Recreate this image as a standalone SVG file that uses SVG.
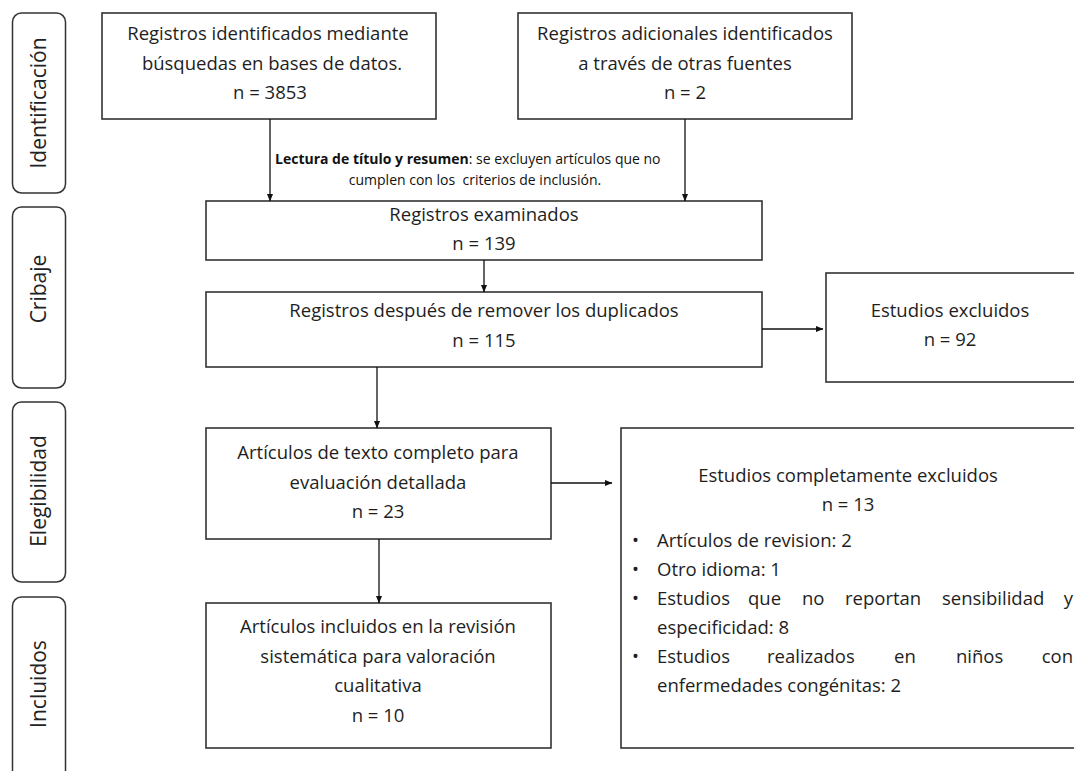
<svg xmlns="http://www.w3.org/2000/svg" width="1074" height="771" viewBox="0 0 1074 771">
<defs>
<marker id="ah" markerWidth="8" markerHeight="8" refX="7" refY="4" orient="auto" markerUnits="userSpaceOnUse">
<path d="M0,1 L7.5,4 L0,7 Z" fill="#111"/>
</marker>
<style>
.box{fill:#fff;stroke:#333;stroke-width:1.6}
.side{fill:#fff;stroke:#333;stroke-width:1.5}
.t{font-family:"Open Sans","DejaVu Sans",sans-serif;font-size:18.5px;fill:#1e1e1e;text-anchor:middle}
.tl{font-family:"Open Sans","DejaVu Sans",sans-serif;font-size:18.5px;fill:#1e1e1e}
.te{font-family:"Open Sans","DejaVu Sans",sans-serif;font-size:18.5px;fill:#1e1e1e;text-anchor:end}
.s{font-family:"Open Sans","DejaVu Sans",sans-serif;font-size:21px;fill:#222;text-anchor:middle}
.n{font-family:"Open Sans","DejaVu Sans",sans-serif;font-size:14px;fill:#111}
.c{stroke:#111;stroke-width:1.3;fill:none}
</style>
</defs>
<rect width="1074" height="771" fill="#fff"/>

<g id="side-identificacion">
<rect class="side" x="12.5" y="13" width="53" height="180" rx="9"/>
<text class="s" transform="translate(46,103) rotate(-90)">Identificación</text>
</g>
<g id="side-cribaje">
<rect class="side" x="12.5" y="207" width="53" height="181" rx="9"/>
<text class="s" transform="translate(46,289) rotate(-90)">Cribaje</text>
</g>
<g id="side-elegibilidad">
<rect class="side" x="12.5" y="402" width="53" height="180" rx="9"/>
<text class="s" transform="translate(46,491) rotate(-90)">Elegibilidad</text>
</g>
<g id="side-incluidos">
<rect class="side" x="12.5" y="597" width="53" height="185" rx="9"/>
<text class="s" transform="translate(46,684) rotate(-90)">Incluidos</text>
</g>

<g id="n-db">
<rect class="box" x="102" y="13" width="334" height="106"/>
<text class="t" x="268" y="40">Registros identificados mediante</text>
<text class="t" x="272" y="69.5">búsquedas en bases de datos.</text>
<text class="t" x="270" y="99">n = 3853</text>
</g>
<g id="n-other">
<rect class="box" x="518" y="13" width="334" height="106"/>
<text class="t" x="685" y="40">Registros adicionales identificados</text>
<text class="t" x="685" y="69.5">a través de otras fuentes</text>
<text class="t" x="685" y="99">n = 2</text>
</g>
<g id="n-examined">
<rect class="box" x="206" y="201" width="556" height="59"/>
<text class="t" x="484" y="221">Registros examinados</text>
<text class="t" x="484" y="250">n = 139</text>
</g>
<g id="n-dedup">
<rect class="box" x="206" y="292" width="556" height="75"/>
<text class="t" x="484" y="317">Registros después de remover los duplicados</text>
<text class="t" x="484" y="347">n = 115</text>
</g>
<g id="n-excluded">
<rect class="box" x="826" y="273" width="260" height="109"/>
<text class="t" x="950" y="317">Estudios excluidos</text>
<text class="t" x="950" y="346">n = 92</text>
</g>
<g id="n-fulltext">
<rect class="box" x="206" y="428" width="345" height="111"/>
<text class="t" x="378" y="459">Artículos de texto completo para</text>
<text class="t" x="378" y="489">evaluación detallada</text>
<text class="t" x="378" y="518">n = 23</text>
</g>
<g id="n-included">
<rect class="box" x="206" y="603" width="345" height="145"/>
<text class="t" x="378" y="633">Artículos incluidos en la revisión</text>
<text class="t" x="378" y="663">sistemática para valoración</text>
<text class="t" x="378" y="692">cualitativa</text>
<text class="t" x="378" y="722">n = 10</text>
</g>
<g id="n-fullexcluded">
<rect class="box" x="621" y="428" width="465" height="320"/>
<text class="t" x="848" y="482">Estudios completamente excluidos</text>
<text class="t" x="848" y="511">n = 13</text>
<text class="tl" x="632" y="547">•</text>
<text class="tl" x="657" y="547">Artículos de revision: 2</text>
<text class="tl" x="632" y="576">•</text>
<text class="tl" x="657" y="576">Otro idioma: 1</text>
<text class="tl" x="632" y="605">•</text>
<text class="tl" y="605"><tspan x="657">Estudios</tspan><tspan x="748">que</tspan><tspan x="802">no</tspan><tspan x="845">reportan</tspan><tspan x="942">sensibilidad</tspan></text>
<text class="te" x="1073" y="605">y</text>
<text class="tl" x="657" y="634">especificidad: 8</text>
<text class="tl" x="632" y="663">•</text>
<text class="tl" y="663"><tspan x="657">Estudios</tspan><tspan x="767">realizados</tspan><tspan x="894">en</tspan><tspan x="956">niños</tspan></text>
<text class="te" x="1073" y="663">con</text>
<text class="tl" x="657" y="692">enfermedades congénitas: 2</text>
</g>

<g id="note">
<text class="n" x="275" y="164"><tspan font-weight="bold">Lectura de título y resumen</tspan>: se excluyen artículos que no</text>
<text class="n" x="475" y="185" text-anchor="middle" xml:space="preserve">cumplen con los  criterios de inclusión.</text>
</g>

<g id="connectors">
<line class="c" x1="270" y1="119" x2="270" y2="201" marker-end="url(#ah)"/>
<line class="c" x1="685" y1="119" x2="685" y2="201" marker-end="url(#ah)"/>
<line class="c" x1="484" y1="260" x2="484" y2="292" marker-end="url(#ah)"/>
<line class="c" x1="377" y1="367" x2="377" y2="428" marker-end="url(#ah)"/>
<line class="c" x1="379" y1="539" x2="379" y2="603" marker-end="url(#ah)"/>
<line class="c" x1="762" y1="329" x2="823" y2="329" marker-end="url(#ah)"/>
<line class="c" x1="551" y1="483" x2="612" y2="483" marker-end="url(#ah)"/>
</g>
</svg>
